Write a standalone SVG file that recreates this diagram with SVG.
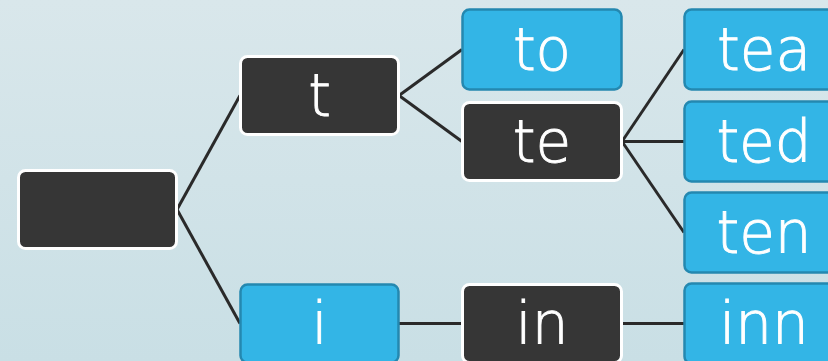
<svg xmlns="http://www.w3.org/2000/svg" width="828" height="361" viewBox="0 0 828 361">
  <defs>
    <linearGradient id="bg" x1="0" y1="0" x2="0" y2="1">
      <stop offset="0" stop-color="#d9e7eb"/>
      <stop offset="1" stop-color="#c9dfe5"/>
    </linearGradient>
  </defs>
  <style>
    .dark rect { fill: #363636; stroke: #ffffff; stroke-width: 3; }
    .blue rect { fill: #33b5e6; stroke: #2488b0; stroke-width: 2.5; }
    .node text { fill: #ffffff; stroke: #ffffff; stroke-width: 0.9; font-family: "DejaVu Sans", "Liberation Sans", sans-serif; font-weight: 200; font-size: 58px; text-anchor: middle; }
    #connectors line { stroke: #2a2a2a; stroke-width: 3; }
  </style>

  <rect x="0" y="0" width="828" height="361" fill="url(#bg)"/>

  <g id="connectors">
    <line x1="177" y1="209.5" x2="240" y2="95.5"/>
    <line x1="177" y1="209.5" x2="240" y2="323.5"/>
    <line x1="399" y1="95.5" x2="462" y2="49.5"/>
    <line x1="399" y1="95.5" x2="462" y2="141.5"/>
    <line x1="622" y1="141.5" x2="684" y2="49.5"/>
    <line x1="622" y1="141.5" x2="684" y2="141.5"/>
    <line x1="622" y1="141.5" x2="684" y2="232.5"/>
    <line x1="399" y1="323.5" x2="462" y2="323.5"/>
    <line x1="622" y1="323.5" x2="684" y2="323.5"/>
  </g>

  <g id="root" class="node dark">
    <rect x="18.5" y="170.5" width="158" height="78" rx="7"/>
  </g>

  <g id="n-t" class="node dark">
    <rect x="240.5" y="56.5" width="158" height="78" rx="7"/>
    <text x="319.5" y="116">t</text>
  </g>
  <g id="n-i" class="node blue">
    <rect x="240.5" y="284.5" width="158" height="78" rx="7"/>
    <text x="319.5" y="344">i</text>
  </g>

  <g id="n-to" class="node blue">
    <rect x="462.5" y="9.5" width="159" height="80" rx="7"/>
    <text x="542" y="70">to</text>
  </g>
  <g id="n-te" class="node dark">
    <rect x="462.5" y="102.5" width="159" height="78" rx="7"/>
    <text x="542" y="162">te</text>
  </g>
  <g id="n-in" class="node dark">
    <rect x="462.5" y="284.5" width="159" height="78" rx="7"/>
    <text x="542" y="344">in</text>
  </g>

  <g id="n-tea" class="node blue">
    <rect x="684.5" y="9.5" width="159" height="80" rx="7"/>
    <text x="764" y="70">tea</text>
  </g>
  <g id="n-ted" class="node blue">
    <rect x="684.5" y="101.5" width="159" height="80" rx="7"/>
    <text x="764" y="162">ted</text>
  </g>
  <g id="n-ten" class="node blue">
    <rect x="684.5" y="192.5" width="159" height="80" rx="7"/>
    <text x="764" y="253">ten</text>
  </g>
  <g id="n-inn" class="node blue">
    <rect x="684.5" y="283.5" width="159" height="80" rx="7"/>
    <text x="764" y="344">inn</text>
  </g>
</svg>
